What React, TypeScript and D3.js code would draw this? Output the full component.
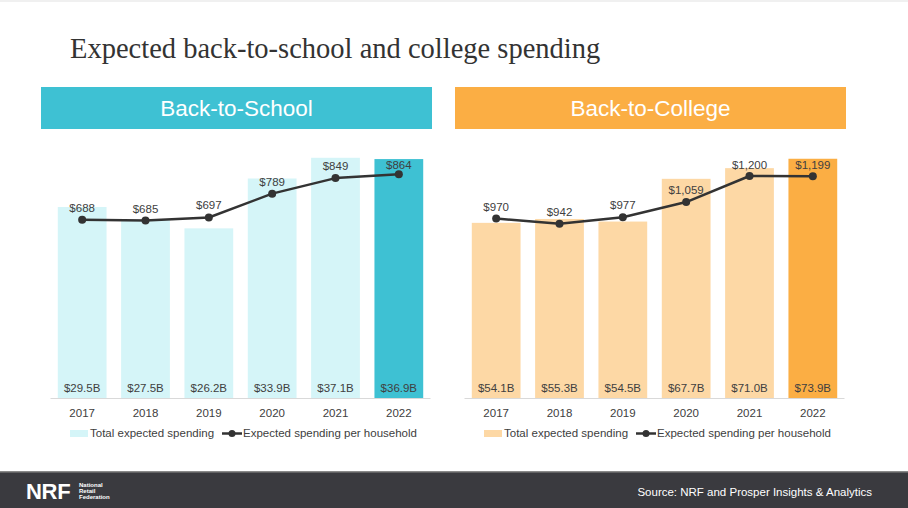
import * as d3 from 'd3';

const years = ['2017', '2018', '2019', '2020', '2021', '2022'];

// Back-to-school: total in $B, per household in $
const schoolTotals = [29.5, 27.5, 26.2, 33.9, 37.1, 36.9];
const schoolPerHousehold = [688, 685, 697, 789, 849, 864];

// Back-to-college
const collegeTotals = [54.1, 55.3, 54.5, 67.7, 71.0, 73.9];
const collegePerHousehold = [970, 942, 977, 1059, 1200, 1199];

const W = 908;
const H = 508;
const SANS = '"Liberation Sans", Arial, Helvetica, sans-serif';
const TEXT = '#404040';
const FS = 11.5;

const fmtB = (v: number) => `$${d3.format('.1f')(v)}B`;
const fmtD = (v: number) => `$${d3.format(',')(v)}`;

type PanelProps = {
  left: number;
  title: string;
  strong: string;
  light: string;
  totals: number[];
  perHousehold: number[];
  totalMax: number;
  lineMax: number;
};

function Panel({ left, title, strong, light, totals, perHousehold, totalMax, lineMax }: PanelProps) {
  const top = 139;
  const base = 398;
  const x = d3.scaleBand<string>().domain(years).range([left + 9.5, left + 389.5]).paddingInner(0.23).paddingOuter(0.115);
  const yBar = d3.scaleLinear().domain([0, totalMax]).range([base, top]);
  const yLine = d3.scaleLinear().domain([0, lineMax]).range([base, top]);
  const cx = (yr: string) => (x(yr) ?? 0) + x.bandwidth() / 2;
  const line = d3.line<number>().x((_, i) => cx(years[i])).y((d) => yLine(d));
  const last = years.length - 1;

  return (
    <g>
      <rect x={left} y={87} width={391} height={42} fill={strong} />
      <text x={left + 195.5} y={116} textAnchor="middle" fill="#fff" fontFamily={SANS} fontSize={22.5}>
        {title}
      </text>

      {totals.map((v, i) => (
        <rect key={years[i]} x={x(years[i])} y={yBar(v)} width={x.bandwidth()} height={base - yBar(v)} fill={i === last ? strong : light} />
      ))}
      <line x1={left + 9.5} x2={left + 389.5} y1={base + 0.5} y2={base + 0.5} stroke="#d9d9d9" strokeWidth={1} />

      {totals.map((v, i) => (
        <text key={years[i]} x={cx(years[i])} y={base - 6} textAnchor="middle" fill={TEXT} fontFamily={SANS} fontSize={FS}>
          {fmtB(v)}
        </text>
      ))}
      {years.map((yr) => (
        <text key={yr} x={cx(yr)} y={416.5} textAnchor="middle" fill={TEXT} fontFamily={SANS} fontSize={FS}>
          {yr}
        </text>
      ))}

      <path d={line(perHousehold) ?? ''} fill="none" stroke="#333" strokeWidth={2.5} strokeLinejoin="round" />
      {perHousehold.map((v, i) => (
        <circle key={years[i]} cx={cx(years[i])} cy={yLine(v)} r={4} fill="#333" />
      ))}
      {perHousehold.map((v, i) => (
        <text key={years[i]} x={cx(years[i])} y={Math.max(yLine(v) - 8, 168.5)} textAnchor="middle" fill={TEXT} fontFamily={SANS} fontSize={FS}>
          {fmtD(v)}
        </text>
      ))}

      {/* legend */}
      <rect x={left + 29} y={430} width={18} height={7} fill={light} />
      <text x={left + 49} y={437} fill={TEXT} fontFamily={SANS} fontSize={FS}>
        Total expected spending
      </text>
      <line x1={left + 181} x2={left + 201} y1={433.5} y2={433.5} stroke="#333" strokeWidth={2.5} />
      <circle cx={left + 191} cy={433.5} r={3.5} fill="#333" />
      <text x={left + 202} y={437} fill={TEXT} fontFamily={SANS} fontSize={FS}>
        Expected spending per household
      </text>
    </g>
  );
}

export default function App() {
  return (
    <div style={{ position: 'absolute', left: 0, top: 0 }}>
      <svg width={W} height={H} style={{ display: 'block', background: '#fff' }}>
        <rect x={0} y={0} width={W} height={2} fill="#f0f0f0" />
        <text x={70} y={58} fill="#333" fontFamily='"Liberation Serif", "Times New Roman", serif' fontSize={28.5}>
          Expected back-to-school and college spending
        </text>

        <Panel
          left={41}
          title="Back-to-School"
          strong="#3ec1d3"
          light="#d5f5f8"
          totals={schoolTotals}
          perHousehold={schoolPerHousehold}
          totalMax={40}
          lineMax={1000}
        />
        <Panel
          left={455}
          title="Back-to-College"
          strong="#fbae44"
          light="#fdd8a5"
          totals={collegeTotals}
          perHousehold={collegePerHousehold}
          totalMax={80}
          lineMax={1400}
        />

        {/* footer */}
        <rect x={0} y={472} width={W} height={36} fill="#3a3a3f" />
        <rect x={0} y={471} width={W} height={1.5} fill="#8a8a8a" />
        <text x={26} y={499} fill="#fff" fontFamily={SANS} fontWeight={900} fontSize={22} letterSpacing={-0.3}>
          NRF
        </text>
        {['National', 'Retail', 'Federation'].map((t, i) => (
          <text key={t} x={79} y={487 + i * 6} fill="#fff" fontFamily={SANS} fontWeight={700} fontSize={6}>
            {t}
          </text>
        ))}
        <text x={872} y={496} textAnchor="end" fill="#fff" fontFamily={SANS} fontSize={11.5}>
          Source: NRF and Prosper Insights &amp; Analytics
        </text>
      </svg>
    </div>
  );
}
